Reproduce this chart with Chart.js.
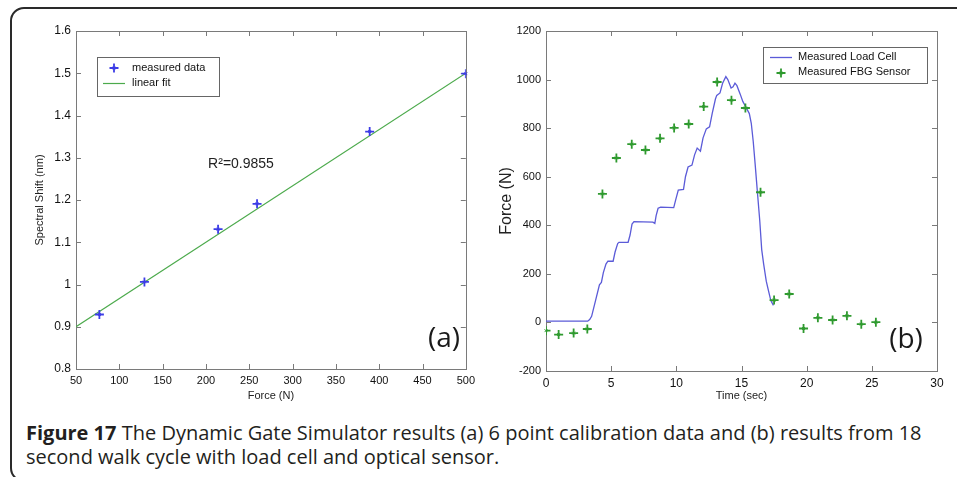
<!DOCTYPE html>
<html>
<head>
<meta charset="utf-8">
<script src="https://cdn.jsdelivr.net/npm/chart.js@4.4.1/dist/chart.umd.min.js"></script>
<style>
  html, body { margin: 0; padding: 0; background: #fff; overflow: hidden; }
  body { width: 957px; height: 477px; position: relative; }
  #frame {
    position: absolute; left: 10px; top: 7px; width: 1000px; height: 475px;
    border: 2px solid #2a2a2a; border-radius: 14px; box-sizing: border-box;
  }
  #wrapA { position: absolute; left: 0; top: 0; width: 480px; height: 410px; }
  #wrapB { position: absolute; left: 480px; top: 0; width: 477px; height: 410px; }
  .cap {
    position: absolute; left: 26px; font-family: "Open Sans", sans-serif;
    font-size: 20px; line-height: 24px; color: #231f20; white-space: nowrap;
  }
  .cap b { font-weight: 700; }
</style>
</head>
<body>
<div id="frame"></div>
<div id="wrapA"><canvas id="chartA" width="480" height="410"></canvas></div>
<div id="wrapB"><canvas id="chartB" width="477" height="410"></canvas></div>
<div class="cap" style="top:421px"><b>Figure 17</b> The Dynamic Gate Simulator results (a) 6 point calibration data and (b) results from 18</div>
<div class="cap" style="top:445px">second walk cycle with load cell and optical sensor.</div>

<script>
// ---- data (a): calibration
const calForce = [77, 129, 214, 259, 389, 500];
const calShift = [0.929, 1.006, 1.131, 1.191, 1.362, 1.499];
const fitForce = [50, 500];
const fitShift = [0.9, 1.5];

// ---- data (b): walk cycle
const fbgTime = [0, 0.97, 2.12, 3.17, 4.33, 5.4, 6.58, 7.63, 8.75, 9.83, 10.95, 12.1,
                 13.13, 14.23, 15.3, 16.46, 17.5, 18.66, 19.76, 20.86, 21.99, 23.09, 24.19, 25.31];
const fbgForce = [-34, -50, -44, -27, 529, 677, 734, 710, 758, 801, 817, 889,
                  990, 915, 883, 536, 92, 117, -25, 19, 10, 27, -7, 1];

const cellTime = [0, 3.2, 3.35, 3.5, 3.8, 4.1, 4.25, 4.4, 4.6, 4.75, 5.15, 5.3, 5.5, 5.6,
                  6.3, 6.45, 6.6, 6.75, 8.2, 8.35, 8.45, 8.6, 8.8, 9.8, 9.95, 10.15, 10.55,
                  10.7, 10.9, 11.2, 11.4, 11.6, 11.85, 12.05, 12.3, 12.55, 12.75, 13.0, 13.1,
                  13.35, 13.55, 13.8, 13.95, 14.2, 14.35, 14.5, 14.65, 14.9, 15.1, 15.3, 15.6,
                  15.75, 15.9, 16.05, 16.2, 16.4, 16.55, 16.7, 16.9, 17.05, 17.25, 17.45];
const cellForce = [5, 5, 12, 25, 90, 155, 165, 205, 240, 252, 252, 290, 325, 330,
                   330, 360, 405, 415, 413, 408, 440, 470, 475, 473, 505, 545, 548,
                   600, 640, 648, 690, 718, 705, 760, 797, 805, 860, 920, 935,
                   945, 985, 1012, 1000, 965, 970, 985, 975, 940, 910, 890, 860,
                   820, 745, 650, 550, 420, 300, 240, 170, 135, 90, 70];

const FONT = '"Liberation Sans", Arial, sans-serif';
const zip = (xs, ys) => xs.map((x, i) => ({x: x, y: ys[i]}));

// matlab style box + inward ticks on all four sides
const matlabBox = {
  id: 'matlabBox',
  beforeDatasetsDraw(chart) {
    const {ctx, chartArea: a, scales} = chart;
    ctx.save();
    ctx.strokeStyle = '#7a7a7a';
    ctx.lineWidth = 1;
    ctx.strokeRect(Math.round(a.left) + 0.5, Math.round(a.top) + 0.5,
                   Math.round(a.right - a.left), Math.round(a.bottom - a.top));
    ctx.beginPath();
    scales.x.ticks.forEach(t => {
      const px = Math.round(scales.x.getPixelForValue(t.value)) + 0.5;
      ctx.moveTo(px, a.bottom); ctx.lineTo(px, a.bottom - 5);
      ctx.moveTo(px, a.top); ctx.lineTo(px, a.top + 5);
    });
    scales.y.ticks.forEach(t => {
      const py = Math.round(scales.y.getPixelForValue(t.value)) + 0.5;
      ctx.moveTo(a.left, py); ctx.lineTo(a.left + 5, py);
      ctx.moveTo(a.right, py); ctx.lineTo(a.right - 5, py);
    });
    ctx.stroke();
    ctx.restore();
  }
};

function fixedSize(w, h) {
  return function(scale) {
    if (w !== null) scale.width = w;
    if (h !== null) scale.height = h;
  };
}

function drawMark(ctx, color, x, y) {
  ctx.save();
  ctx.strokeStyle = color;
  ctx.fillStyle = color;
  ctx.lineWidth = 1.8;
  Chart.helpers.drawPoint(ctx, {pointStyle: 'cross', radius: 4.5, borderWidth: 1.8, rotation: 0}, x, y);
  ctx.lineWidth = 1.2;
  Chart.helpers.drawPoint(ctx, {pointStyle: 'crossRot', radius: 2, borderWidth: 1.2, rotation: 0}, x, y);
  ctx.restore();
}

const noGrid = { display: false, drawTicks: false, tickLength: 0 };

// ---------- chart (a)
const notesA = {
  id: 'notesA',
  afterDraw(chart) {
    const ctx = chart.ctx;
    ctx.save();
    // legend
    ctx.fillStyle = '#fff';
    ctx.fillRect(97, 57, 122, 39);
    ctx.strokeStyle = '#666';
    ctx.lineWidth = 1;
    ctx.strokeRect(97.5, 57.5, 122, 39);
    drawMark(ctx, '#3c3ce6', 114, 68);
    ctx.strokeStyle = '#4caa4c';
    ctx.lineWidth = 1.2;
    ctx.beginPath(); ctx.moveTo(103, 83.5); ctx.lineTo(125, 83.5); ctx.stroke();
    ctx.fillStyle = '#111';
    ctx.font = '11px ' + FONT;
    ctx.textBaseline = 'middle';
    ctx.fillText('measured data', 132, 68);
    ctx.fillText('linear fit', 132, 83);
    // r squared
    ctx.font = '14px ' + FONT;
    ctx.textAlign = 'center';
    ctx.fillStyle = '#222';
    ctx.fillText('R\u00B2=0.9855', 241, 164);
    // panel tag
    ctx.font = '28px "Open Sans", sans-serif';
    ctx.fillStyle = '#1a1a1a';
    ctx.fillText('(a)', 444, 339);
    ctx.restore();
  }
};

// overlay small diagonal cross so markers look like the blurred matlab '+'
const markOverlay = {
  id: 'markOverlay',
  afterDatasetsDraw(chart) {
    const ctx = chart.ctx;
    chart.data.datasets.forEach((ds, i) => {
      if (ds.type === 'line') return;
      chart.getDatasetMeta(i).data.forEach(pt => {
        ctx.save();
        ctx.strokeStyle = ds.borderColor;
        Chart.helpers.drawPoint(ctx, {pointStyle: 'crossRot', radius: 2, borderWidth: 1.2, rotation: 0}, pt.x, pt.y);
        ctx.restore();
      });
    });
  }
};

new Chart(document.getElementById('chartA'), {
  type: 'scatter',
  data: {
    datasets: [
      {
        label: 'measured data',
        data: zip(calForce, calShift),
        pointStyle: 'cross',
        pointRadius: 4.5,
        borderWidth: 1.8,
        borderColor: '#3c3ce6',
        backgroundColor: '#3c3ce6',
        order: 1
      },
      {
        label: 'linear fit',
        type: 'line',
        data: zip(fitForce, fitShift),
        borderColor: '#4caa4c',
        borderWidth: 1.2,
        pointRadius: 0,
        fill: false,
        order: 2
      }
    ]
  },
  options: {
    responsive: false,
    animation: false,
    events: [],
    layout: { padding: { left: 29, top: 31, right: 9, bottom: 3 } },
    plugins: { legend: { display: false }, tooltip: { enabled: false } },
    scales: {
      x: {
        type: 'linear', min: 50, max: 500,
        afterFit: fixedSize(null, 38),
        grid: noGrid,
        border: { display: false },
        ticks: { stepSize: 50, color: '#111', padding: 5, maxRotation: 0, font: { family: FONT, size: 11 },
                 callback: v => String(v) },
        title: { display: true, text: 'Force (N)', color: '#222', font: { family: FONT, size: 11 } }
      },
      y: {
        type: 'linear', min: 0.8, max: 1.6,
        afterFit: fixedSize(47, null),
        grid: noGrid,
        border: { display: false },
        ticks: {
          stepSize: 0.1, color: '#111', padding: 5, font: { family: FONT, size: 12 },
          callback: v => String(+v.toFixed(1))
        },
        title: { display: true, text: 'Spectral Shift (nm)', color: '#222', font: { family: FONT, size: 11 } }
      }
    }
  },
  plugins: [matlabBox, markOverlay, notesA]
});

// ---------- chart (b)
const notesB = {
  id: 'notesB',
  afterDraw(chart) {
    const ctx = chart.ctx;
    ctx.save();
    ctx.fillStyle = '#fff';
    ctx.fillRect(283, 47, 164, 36);
    ctx.strokeStyle = '#666';
    ctx.lineWidth = 1;
    ctx.strokeRect(283.5, 47.5, 164, 36);
    ctx.strokeStyle = '#5b5bd8';
    ctx.lineWidth = 1.3;
    ctx.beginPath(); ctx.moveTo(290, 57.5); ctx.lineTo(312, 57.5); ctx.stroke();
    drawMark(ctx, '#2f9a2f', 301, 73);
    ctx.fillStyle = '#111';
    ctx.font = '11px ' + FONT;
    ctx.textBaseline = 'middle';
    ctx.fillText('Measured Load Cell', 318, 57);
    ctx.fillText('Measured FBG Sensor', 318, 72);
    ctx.font = '28px "Open Sans", sans-serif';
    ctx.textAlign = 'center';
    ctx.fillStyle = '#1a1a1a';
    ctx.fillText('(b)', 426, 340);
    ctx.restore();
  }
};

new Chart(document.getElementById('chartB'), {
  type: 'scatter',
  data: {
    datasets: [
      {
        label: 'Measured Load Cell',
        type: 'line',
        data: zip(cellTime, cellForce),
        borderColor: '#5b5bd8',
        borderWidth: 1.3,
        pointRadius: 0,
        fill: false,
        tension: 0,
        order: 2
      },
      {
        label: 'Measured FBG Sensor',
        data: zip(fbgTime, fbgForce),
        pointStyle: 'cross',
        pointRadius: 4.5,
        borderWidth: 1.8,
        borderColor: '#2f9a2f',
        backgroundColor: '#2f9a2f',
        order: 1
      }
    ]
  },
  options: {
    responsive: false,
    animation: false,
    events: [],
    layout: { padding: { left: 13, top: 31, right: 20, bottom: 3 } },
    plugins: { legend: { display: false }, tooltip: { enabled: false } },
    scales: {
      x: {
        type: 'linear', min: 0, max: 30,
        afterFit: fixedSize(null, 36),
        grid: noGrid,
        border: { display: false },
        ticks: { stepSize: 5, color: '#111', padding: 5, maxRotation: 0, font: { family: FONT, size: 12 },
                 callback: v => String(v) },
        title: { display: true, text: 'Time (sec)', color: '#222', font: { family: FONT, size: 11 } }
      },
      y: {
        type: 'linear', min: -200, max: 1200,
        afterFit: fixedSize(53, null),
        grid: noGrid,
        border: { display: false },
        ticks: { stepSize: 200, color: '#111', padding: 5, font: { family: FONT, size: 11 },
                 callback: v => String(v) },
        title: { display: true, text: 'Force (N)', color: '#222', font: { family: FONT, size: 16 } }
      }
    }
  },
  plugins: [matlabBox, markOverlay, notesB]
});
</script>
</body>
</html>
